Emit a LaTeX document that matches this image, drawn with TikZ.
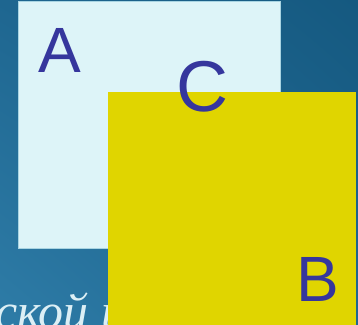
\documentclass[tikz,border=0pt]{standalone}
\usepackage{fontspec}
\setmainfont{Liberation Serif}
\newfontfamily\letterfont{Liberation Sans}
\usepackage{xcolor}
\usepackage{tikz}
\usetikzlibrary{shadings}
\definecolor{bgtopleft}{HTML}{1E6690}
\definecolor{bgtopright}{HTML}{155980}
\definecolor{bgbotleft}{HTML}{2E7CA7}
\definecolor{bgbotright}{HTML}{1F6791}
\definecolor{paleblue}{HTML}{DDF4F8}
\definecolor{paleedge}{HTML}{A8D4E2}
\definecolor{setyellow}{HTML}{E0D500}
\definecolor{letterblue}{HTML}{35369D}
\definecolor{textwhite}{HTML}{DCEFF5}

\begin{document}
\begin{tikzpicture}[x=1pt,y=-1pt,
  every node/.style={inner sep=0pt,outer sep=0pt},
  setbox/.style={rectangle,minimum width=#1},
  letter/.style={font=\letterfont\fontsize{64}{64}\selectfont,text=letterblue},
  caption/.style={font=\itshape\fontsize{50}{50}\selectfont,text=textwhite,anchor=base west}
]
  \clip (0,0) rectangle (358,324);
  \shade[upper left=bgtopleft,upper right=bgtopright,lower left=bgbotleft,lower right=bgbotright]
    (0,0) rectangle (358,324);
  \node[caption] (cap) at (-5,328) {ской и};
  \node[setbox=262pt,minimum height=247pt,fill=paleblue,draw=paleedge,line width=0.6pt] (boxA) at (149,124.5) {};
  \node[setbox=248pt,minimum height=240pt,fill=setyellow] (boxB) at (232,212) {};
  \node[letter] (labA) at (60,50.5) {A};
  \node[letter] (labB) at (317.5,279) {B};
  \node[letter,font=\letterfont\fontsize{72}{72}\selectfont] (labC) at (202,87) {C};
\end{tikzpicture}
\end{document}
